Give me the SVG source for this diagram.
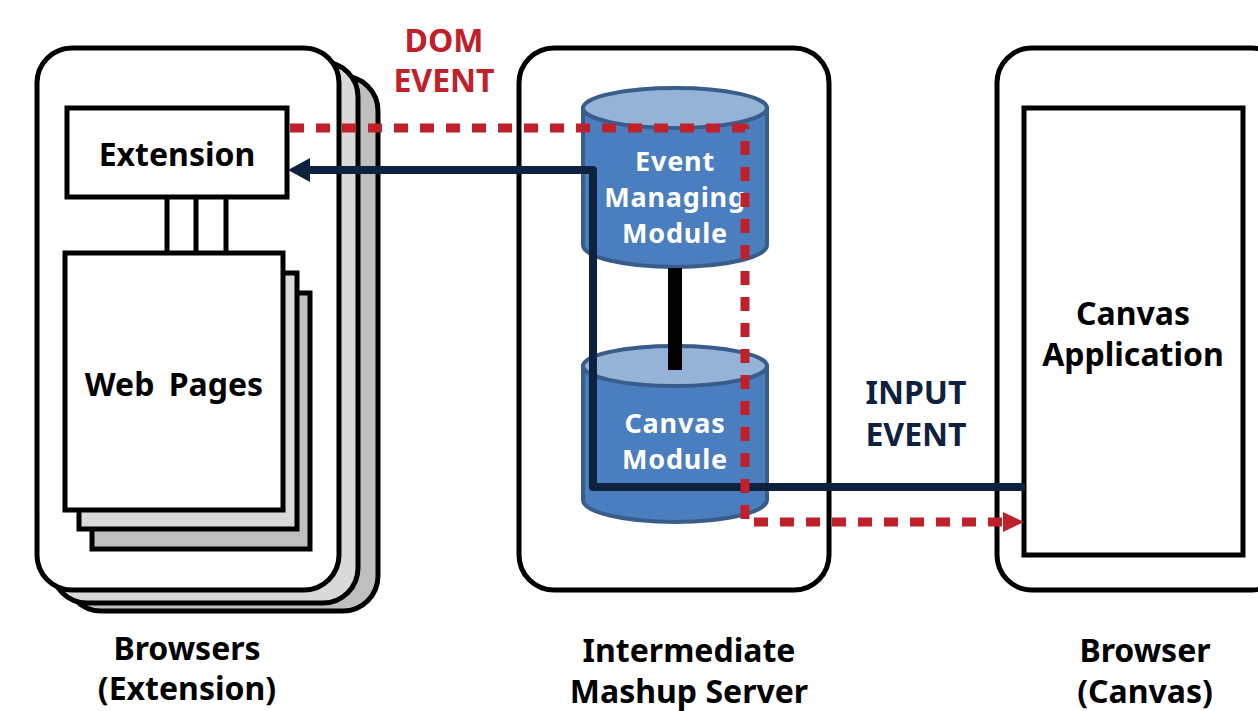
<svg xmlns="http://www.w3.org/2000/svg" width="1258" height="711" viewBox="0 0 1258 711">
<defs>
<style>
.box{stroke:#000;stroke-width:5;fill:#fff}
.lbl{font-family:"Noto Sans","Open Sans","Liberation Sans",sans-serif;font-weight:bold;font-size:32px;text-anchor:middle}
.cyl{fill:#4A7EBE;stroke:#385D8A;stroke-width:4}
.cyltop{fill:#95B3D7;stroke:#385D8A;stroke-width:4}
.wt{fill:#fff;font-size:27px;letter-spacing:0.8px}
.navy{fill:#0E2240}
.red{fill:#C0202A}
</style>
</defs>
<rect width="1258" height="711" fill="#fff"/>

<g id="browsers-ext">
<rect class="box" x="66" y="76" width="312" height="535" rx="35" style="fill:#BFBFBF"/>
<rect class="box" x="52" y="62" width="306" height="541" rx="35" style="fill:#D9D9D9"/>
<rect class="box" x="37" y="48" width="302" height="542" rx="35"/>
<text class="lbl" x="187" y="660">Browsers</text>
<text class="lbl" x="187" y="700">(Extension)</text>
</g>

<g id="web-pages">
<rect class="box" x="92" y="293" width="218" height="256" style="fill:#BFBFBF"/>
<rect class="box" x="79" y="273" width="218" height="256" style="fill:#D9D9D9"/>
<rect class="box" x="65" y="253" width="218" height="257"/>
<text class="lbl" x="174" y="396" style="word-spacing:6px">Web Pages</text>
</g>

<g id="ext-links">
<line x1="167" y1="197" x2="167" y2="253" stroke="#000" stroke-width="5"/>
<line x1="196" y1="197" x2="196" y2="253" stroke="#000" stroke-width="5"/>
<line x1="226" y1="197" x2="226" y2="253" stroke="#000" stroke-width="5"/>
</g>

<g id="extension">
<rect class="box" x="67" y="108" width="220" height="89"/>
<text class="lbl" x="177" y="166">Extension</text>
</g>

<g id="server">
<rect class="box" x="519" y="48" width="310" height="542" rx="35"/>
<text class="lbl" x="689" y="662">Intermediate</text>
<text class="lbl" x="689" y="703">Mashup Server</text>
</g>

<g id="event-module">
<path class="cyl" d="M583,108 L583,245 A92,22 0 0 0 767,245 L767,108 Z"/>
<ellipse class="cyltop" cx="675" cy="108" rx="92" ry="20"/>
<text class="lbl wt" x="675" y="171">Event</text>
<text class="lbl wt" x="675" y="207">Managing</text>
<text class="lbl wt" x="675" y="243">Module</text>
</g>

<g id="canvas-module">
<path class="cyl" d="M583,366 L583,500 A92,22 0 0 0 767,500 L767,366 Z"/>
<ellipse class="cyltop" cx="675" cy="366" rx="92" ry="20"/>
<text class="lbl wt" x="675" y="433">Canvas</text>
<text class="lbl wt" x="675" y="469">Module</text>
</g>

<g id="browser-canvas">
<rect class="box" x="997" y="48" width="290" height="542" rx="35"/>
<text class="lbl" x="1145" y="662">Browser</text>
<text class="lbl" x="1145" y="703">(Canvas)</text>
</g>

<g id="canvas-app">
<rect class="box" x="1024" y="108" width="219" height="447"/>
<text class="lbl" x="1133" y="325">Canvas</text>
<text class="lbl" x="1133" y="366">Application</text>
</g>

<g id="connectors">
<line x1="675" y1="268" x2="675" y2="370" stroke="#000" stroke-width="14"/>
<path d="M1025,487 L593,487 L593,170 L306,170" fill="none" stroke="#0E2240" stroke-width="8" stroke-linejoin="round"/>
<path class="navy" d="M288,170 L310,158 L310,182 Z"/>
<path d="M290,128 L745,128 L745,522 L1008,522" fill="none" stroke="#C0202A" stroke-width="9" stroke-dasharray="14 12" stroke-linejoin="round"/>
<path class="red" d="M1003,512 L1024,522 L1003,532 Z"/>
</g>

<g id="labels">
<text class="lbl" x="444" y="52" style="fill:#C0202A">DOM</text>
<text class="lbl" x="444" y="92" style="fill:#C0202A">EVENT</text>
<text class="lbl" x="916" y="404" style="fill:#0E2240">INPUT</text>
<text class="lbl" x="916" y="446" style="fill:#0E2240">EVENT</text>
</g>
</svg>
